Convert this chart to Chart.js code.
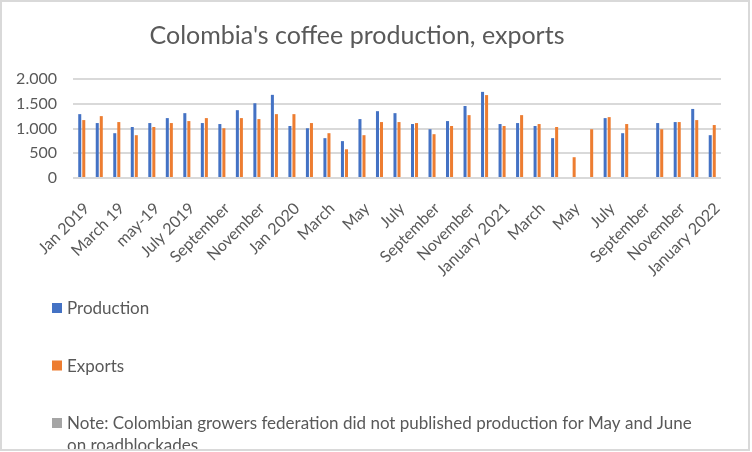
<!DOCTYPE html>
<html>
<head>
<meta charset="utf-8">
<script src="https://cdn.jsdelivr.net/npm/chart.js@4"></script>
<style>
  html, body { margin: 0; padding: 0; background: #fff; }
  #wrap { width: 752px; height: 452px; }
</style>
</head>
<body>
<div id="wrap"><canvas id="coffee" width="752" height="452"></canvas></div>
<script>
const categories = [
  "Jan 2019", "Feb 19", "March 19", "Apr 19", "may-19", "jun-19", "July 2019", "August", "September", "October", "November", "December",
  "Jan 2020", "February", "March", "April", "May", "June", "July", "August", "September", "October", "November", "December",
  "January 2021", "February", "March", "April", "May", "June", "July", "August", "September", "October", "November", "December",
  "January 2022"
];

const production = [
  1290, 1110, 905, 1030, 1110, 1210, 1310, 1110, 1090, 1370, 1510, 1680,
  1050, 1005, 805, 745, 1190, 1350, 1310, 1090, 985, 1150, 1455, 1740,
  1090, 1110, 1050, 805, null, null, 1210, 905, null, 1110, 1130, 1395,
  865
];

const exports = [
  1170, 1250, 1130, 865, 1030, 1110, 1150, 1210, 1005, 1210, 1190, 1290,
  1290, 1110, 905, 580, 865, 1130, 1130, 1110, 885, 1050, 1270, 1675,
  1050, 1270, 1090, 1030, 420, 985, 1230, 1090, null, 985, 1130, 1170,
  1070
];

const yTicks = [0, 500, 1000, 1500, 2000];

const chartTitle = "Colombia's coffee production, exports";
const noteLabel = "Note: Colombian growers federation did not published production for May and June on roadblockades";

const FONT = "Lato, 'Open Sans', sans-serif";
const TEXT = "#595959";

// title, stacked legend and the outer frame, drawn like the Excel original
const decor = {
  id: 'decor',
  beforeDraw(chart) {
    const ctx = chart.ctx;
    ctx.save();
    ctx.fillStyle = '#fff';
    ctx.fillRect(0, 0, chart.width, chart.height);
    ctx.restore();
  },
  afterDraw(chart) {
    const ctx = chart.ctx;
    ctx.save();
    ctx.fillStyle = TEXT;
    ctx.font = '25px ' + FONT;
    ctx.textAlign = 'center';
    ctx.textBaseline = 'alphabetic';
    ctx.fillText(chartTitle, 357, 44);

    const items = chart.data.datasets.map(d => ({ label: d.label, color: d.backgroundColor }));
    items.push({ label: noteLabel, color: '#A5A5A5' });

    ctx.font = '17px ' + FONT;
    ctx.textAlign = 'left';
    let y = 314;
    items.forEach(item => {
      ctx.fillStyle = item.color;
      ctx.fillRect(52, y - 11, 10, 10);
      ctx.fillStyle = TEXT;
      // wrap long entries
      const words = item.label.split(' ');
      let line = '';
      let ly = y;
      words.forEach(w => {
        const test = line ? line + ' ' + w : w;
        if (ctx.measureText(test).width > 635 && line) {
          ctx.fillText(line, 67, ly);
          line = w;
          ly += 22;
        } else {
          line = test;
        }
      });
      ctx.fillText(line, 67, ly);
      y += 57.5;
    });

    ctx.strokeStyle = '#D9D9D9';
    ctx.lineWidth = 2;
    ctx.strokeRect(1, 1, 748, 449);
    ctx.restore();
  }
};

const ctx = document.getElementById('coffee').getContext('2d');
const chart = new Chart(ctx, {
  type: 'bar',
  data: {
    labels: categories,
    datasets: [{
      label: 'Production',
      data: production,
      backgroundColor: '#4472C4',
      categoryPercentage: 0.46,
      barPercentage: 0.75
    }, {
      label: 'Exports',
      data: exports,
      backgroundColor: '#ED7D31',
      categoryPercentage: 0.46,
      barPercentage: 0.75
    }]
  },
  options: {
    responsive: false,
    animation: false,
    layout: {
      padding: { left: 0, right: 31, top: 79, bottom: 174 }
    },
    plugins: {
      legend: { display: false },
      title: { display: false },
      tooltip: { enabled: false }
    },
    scales: {
      x: {
        grid: { display: false },
        border: { display: false },
        ticks: {
          autoSkip: false,
          minRotation: 45,
          maxRotation: 45,
          padding: 13,
          labelOffset: 5,
          color: TEXT,
          font: { family: FONT, size: 16 },
          callback: function (val, index) {
            return index % 2 === 0 ? this.getLabelForValue(val) : '';
          }
        },
        afterFit: function (scale) { scale.height = 100; }
      },
      y: {
        min: 0,
        max: 2000,
        afterBuildTicks: function (scale) {
          scale.ticks = yTicks.map(v => ({ value: v }));
        },
        grid: { color: '#D9D9D9', lineWidth: 2, drawTicks: false },
        border: { display: false },
        ticks: {
          padding: 16,
          color: TEXT,
          font: { family: FONT, size: 16 },
          callback: function (val) {
            return val.toLocaleString('de-DE');
          }
        },
        afterFit: function (scale) { scale.width = 73; }
      }
    }
  },
  plugins: [decor]
});
</script>
</body>
</html>
